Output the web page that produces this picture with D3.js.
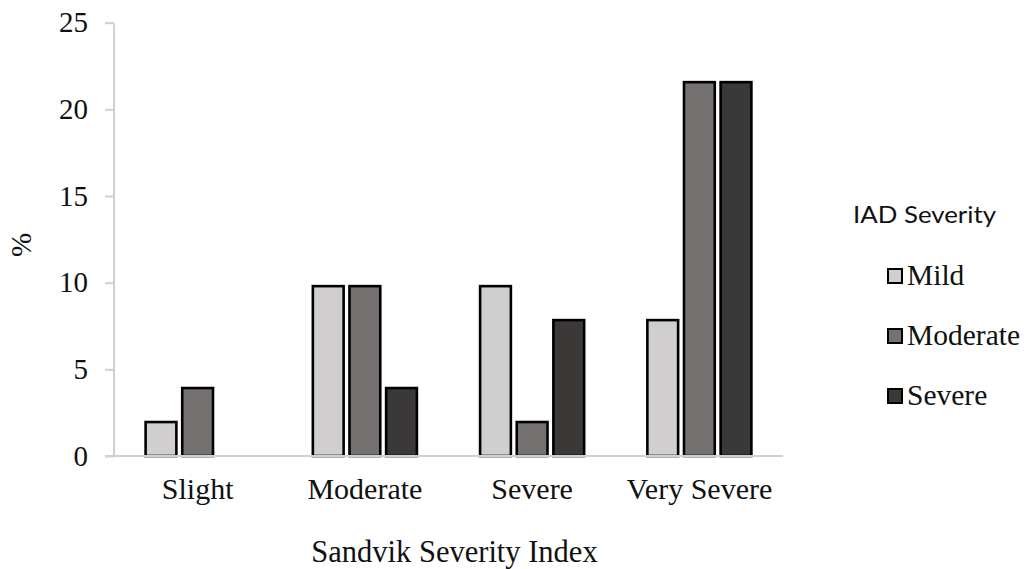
<!DOCTYPE html>
<html>
<head>
<meta charset="utf-8">
<script src="https://cdn.jsdelivr.net/npm/d3@7"></script>
<style>
  html, body { margin: 0; padding: 0; background: #fff; }
  svg { display: block; }
  .serif { font-family: "Liberation Serif", "Times New Roman", Times, "DejaVu Serif", serif; }
</style>
</head>
<body>
<svg id="chart" width="1027" height="569"></svg>
<script>
const categories = ["Slight", "Moderate", "Severe", "Very Severe"];
const seriesNames = ["Mild", "Moderate", "Severe"];
const mildValues = [1.96, 9.8, 9.8, 7.84];
const moderateValues = [3.92, 9.8, 1.96, 21.57];
const severeValues = [0, 3.92, 7.84, 21.57];
const yTicks = [0, 5, 10, 15, 20, 25];
const seriesColors = ["#d0cece", "#767171", "#3b3838"];
const legendTitle = "IAD Severity";
const xTitle = "Sandvik Severity Index";
const yTitle = "%";

const seriesValues = [mildValues, moderateValues, severeValues];

const svg = d3.select("#chart");
const plot = { left: 114, right: 783, top: 22.7, bottom: 456 };

const x0 = d3.scaleBand().domain(categories).range([plot.left, plot.right]).padding(0);
const groupPad = 31.6;
const x1 = d3.scaleBand().domain(seriesNames)
  .range([groupPad, x0.bandwidth() - groupPad]).paddingInner(0.16).paddingOuter(0);
const y = d3.scaleLinear().domain([0, 25]).range([plot.bottom, plot.top]);
const color = d3.scaleOrdinal().domain(seriesNames).range(seriesColors);

// Y axis
const yAxis = svg.append("g")
  .attr("transform", `translate(${plot.left},0)`)
  .call(d3.axisLeft(y).tickValues(yTicks).tickSize(9).tickPadding(17).tickFormat(d3.format("d")));
yAxis.attr("font-family", null).attr("font-size", null);
yAxis.select(".domain").attr("stroke", "#d0d0d0").attr("stroke-width", 2)
  .attr("d", `M0,${plot.top}V${plot.bottom}`);
yAxis.selectAll(".tick line").attr("stroke", "#d0d0d0").attr("stroke-width", 2);
yAxis.selectAll(".tick text").attr("class", "serif").style("font-size", "29px").attr("fill", "#111");

// Bars
const rows = categories.map((c, i) => ({ cat: c, vals: seriesNames.map((s, j) => ({ s, v: seriesValues[j][i] })) }));
const groups = svg.append("g").selectAll("g").data(rows).join("g")
  .attr("transform", d => `translate(${x0(d.cat)},0)`);
groups.selectAll("rect").data(d => d.vals.filter(e => e.v > 0)).join("rect")
  .attr("x", d => x1(d.s))
  .attr("y", d => y(d.v))
  .attr("width", x1.bandwidth())
  .attr("height", d => y(0) - y(d.v))
  .attr("fill", d => color(d.s))
  .attr("stroke", "#000")
  .attr("stroke-width", 2.6);

// X axis
const xAxis = svg.append("g")
  .attr("transform", `translate(0,${plot.bottom})`)
  .call(d3.axisBottom(x0).tickSize(0).tickPadding(22));
xAxis.attr("font-family", null).attr("font-size", null);
xAxis.select(".domain").attr("stroke", "#d0d0d0").attr("stroke-width", 2)
  .attr("d", `M${plot.left - 9},0H${plot.right}`);
xAxis.selectAll(".tick text").attr("class", "serif").style("font-size", "30px").attr("fill", "#111");

// Axis titles
svg.append("text").attr("class", "serif")
  .attr("x", (plot.left + plot.right) / 2 + 6).attr("y", 562)
  .attr("text-anchor", "middle")
  .style("font-size", "30.5px").attr("fill", "#111")
  .text(xTitle);
svg.append("text").attr("class", "serif")
  .attr("transform", "translate(31,245) rotate(-90)")
  .attr("text-anchor", "middle")
  .style("font-size", "29px").attr("fill", "#111")
  .text(yTitle);

// Legend
svg.append("text")
  .attr("x", 853).attr("y", 223)
  .style("font-family", "Lato, 'Open Sans', sans-serif").style("font-size", "24px").attr("fill", "#111")
  .attr("textLength", 143).attr("lengthAdjust", "spacingAndGlyphs")
  .text(legendTitle);
const legend = svg.append("g").selectAll("g").data(seriesNames).join("g")
  .attr("transform", (d, i) => `translate(888,${276 + i * 60})`);
legend.append("rect")
  .attr("x", 0).attr("y", -7).attr("width", 14).attr("height", 14)
  .attr("fill", d => color(d)).attr("stroke", "#000").attr("stroke-width", 2);
legend.append("text").attr("class", "serif")
  .attr("x", 19).attr("y", 9)
  .style("font-size", "29.5px").attr("fill", "#111")
  .text(d => d);
</script>
</body>
</html>
